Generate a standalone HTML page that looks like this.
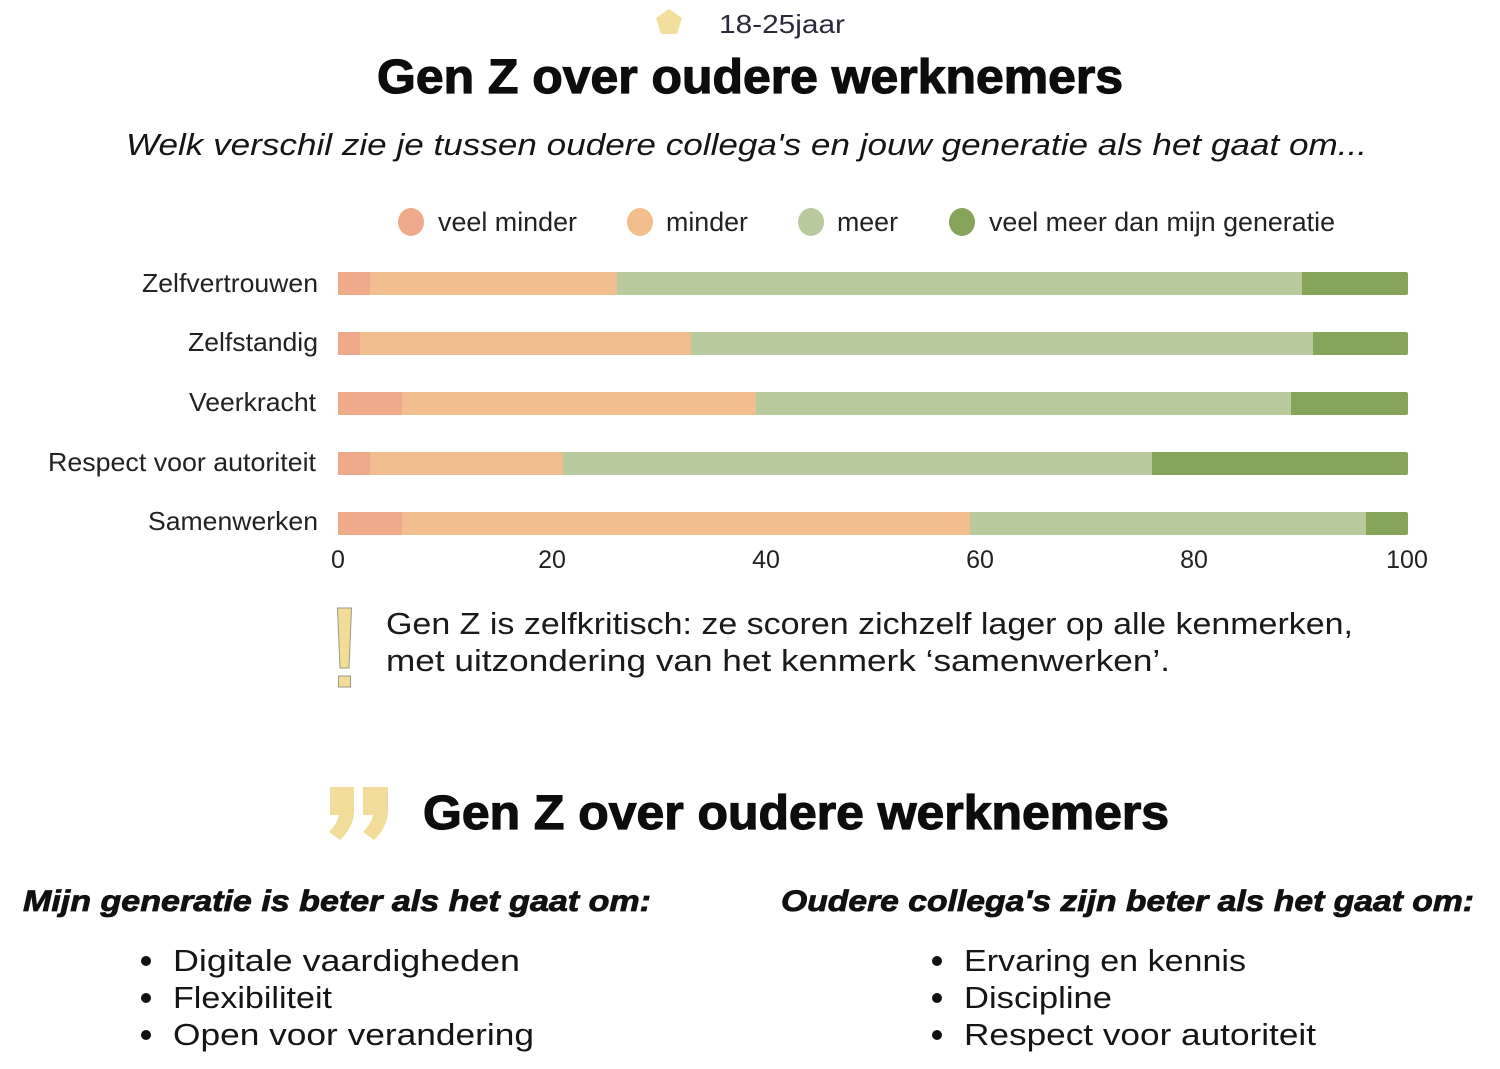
<!DOCTYPE html>
<html><head><meta charset="utf-8"><style>
html,body{margin:0;padding:0;background:#fff;}
svg{display:block;}
text{font-family:"Liberation Sans",sans-serif;}
</style></head><body>
<svg width="1500" height="1069" viewBox="0 0 1500 1069" xmlns="http://www.w3.org/2000/svg">
<rect width="1500" height="1069" fill="#fff"/>
<!-- header -->
<polygon points="669,9 682,18 677,34 661,34 656,18" fill="#F2DF9E"/>
<text x="719" y="33" font-size="26" fill="#2a2a3a" textLength="126" lengthAdjust="spacingAndGlyphs">18-25jaar</text>
<text x="377" y="93" font-size="48" font-weight="bold" fill="#0d0d0d" stroke="#0d0d0d" stroke-width="1.2" textLength="746" lengthAdjust="spacingAndGlyphs">Gen Z over oudere werknemers</text>
<text x="126" y="155" font-size="31" font-style="italic" fill="#151515" textLength="1241" lengthAdjust="spacingAndGlyphs">Welk verschil zie je tussen oudere collega's en jouw generatie als het gaat om...</text>

<!-- legend -->
<g font-size="26.5" fill="#222">
<ellipse cx="411" cy="222" rx="13" ry="14" fill="#EFA98B"/>
<text x="438" y="231" textLength="139" lengthAdjust="spacingAndGlyphs">veel minder</text>
<ellipse cx="640" cy="222" rx="13" ry="14" fill="#F3BE8D"/>
<text x="666" y="231" textLength="82" lengthAdjust="spacingAndGlyphs">minder</text>
<ellipse cx="811" cy="222" rx="13" ry="14" fill="#B8CA9E"/>
<text x="837" y="231" textLength="61" lengthAdjust="spacingAndGlyphs">meer</text>
<ellipse cx="962" cy="222" rx="13" ry="14" fill="#86A55B"/>
<text x="989" y="231" textLength="346" lengthAdjust="spacingAndGlyphs">veel meer dan mijn generatie</text>
</g>

<!-- y labels -->
<g font-size="26" fill="#222">
<text x="142" y="292" textLength="176" lengthAdjust="spacingAndGlyphs">Zelfvertrouwen</text>
<text x="188" y="351" textLength="130" lengthAdjust="spacingAndGlyphs">Zelfstandig</text>
<text x="189" y="411" textLength="127" lengthAdjust="spacingAndGlyphs">Veerkracht</text>
<text x="48" y="471" textLength="268" lengthAdjust="spacingAndGlyphs">Respect voor autoriteit</text>
<text x="148" y="530" textLength="170" lengthAdjust="spacingAndGlyphs">Samenwerken</text>
</g>

<!-- bars -->
<g>
<rect x="1300" y="272" width="108" height="23" rx="2" fill="#86A55B"/>
<rect x="338" y="272" width="32" height="23" fill="#EFA98B"/>
<rect x="370" y="272" width="247" height="23" fill="#F3BE8D"/>
<rect x="617" y="272" width="685" height="23" fill="#B8CA9E"/>
<rect x="1310" y="332" width="98" height="23" rx="2" fill="#86A55B"/>
<rect x="338" y="332" width="22" height="23" fill="#EFA98B"/>
<rect x="360" y="332" width="331" height="23" fill="#F3BE8D"/>
<rect x="691" y="332" width="622" height="23" fill="#B8CA9E"/>
<rect x="1288" y="392" width="120" height="23" rx="2" fill="#86A55B"/>
<rect x="338" y="392" width="64" height="23" fill="#EFA98B"/>
<rect x="402" y="392" width="354" height="23" fill="#F3BE8D"/>
<rect x="756" y="392" width="535" height="23" fill="#B8CA9E"/>
<rect x="1150" y="452" width="258" height="23" rx="2" fill="#86A55B"/>
<rect x="338" y="452" width="32" height="23" fill="#EFA98B"/>
<rect x="370" y="452" width="193" height="23" fill="#F3BE8D"/>
<rect x="563" y="452" width="589" height="23" fill="#B8CA9E"/>
<rect x="1364" y="512" width="44" height="23" rx="2" fill="#86A55B"/>
<rect x="338" y="512" width="64" height="23" fill="#EFA98B"/>
<rect x="402" y="512" width="568" height="23" fill="#F3BE8D"/>
<rect x="970" y="512" width="396" height="23" fill="#B8CA9E"/>
</g>

<!-- x ticks -->
<g font-size="25" fill="#222" text-anchor="middle">
<text x="338" y="568">0</text>
<text x="552" y="568">20</text>
<text x="766" y="568">40</text>
<text x="980" y="568">60</text>
<text x="1194" y="568">80</text>
<text x="1407" y="568">100</text>
</g>

<!-- exclamation -->
<polygon points="337.5,608 351.5,608 349,668 340,668" fill="#F2DC96" stroke="#9a9a8a" stroke-width="1"/>
<rect x="338.5" y="676" width="12" height="11" fill="#F2DC96" stroke="#9a9a8a" stroke-width="1"/>
<g font-size="31" fill="#1a1a1a">
<text x="386" y="634" textLength="967" lengthAdjust="spacingAndGlyphs">Gen Z is zelfkritisch: ze scoren zichzelf lager op alle kenmerken,</text>
<text x="386" y="671" textLength="784" lengthAdjust="spacingAndGlyphs">met uitzondering van het kenmerk ‘samenwerken’.</text>
</g>

<!-- quote icon -->
<path d="M330,787 L354,787 L354,812 Q353,828 340,840 L329,832 Q337,824 339,815 L330,815 Z" fill="#F2DC9A"/>
<path d="M363,787 L388,787 L388,812 Q387,828 374,840 L363,832 Q371,824 373,815 L363,815 Z" fill="#F2DC9A"/>
<text x="423" y="829" font-size="48" font-weight="bold" fill="#0d0d0d" stroke="#0d0d0d" stroke-width="1.2" textLength="746" lengthAdjust="spacingAndGlyphs">Gen Z over oudere werknemers</text>

<!-- bottom columns -->
<g font-size="30" font-weight="bold" font-style="italic" fill="#111" stroke="#111" stroke-width="0.8">
<text x="23" y="911" textLength="628" lengthAdjust="spacingAndGlyphs">Mijn generatie is beter als het gaat om:</text>
<text x="781" y="911" textLength="693" lengthAdjust="spacingAndGlyphs">Oudere collega's zijn beter als het gaat om:</text>
</g>
<g fill="#111">
<circle cx="146" cy="961" r="5"/>
<circle cx="146" cy="998" r="5"/>
<circle cx="146" cy="1035" r="5"/>
<circle cx="937" cy="961" r="5"/>
<circle cx="937" cy="998" r="5"/>
<circle cx="937" cy="1035" r="5"/>
</g>
<g font-size="31" fill="#151515">
<text x="173" y="971" textLength="347" lengthAdjust="spacingAndGlyphs">Digitale vaardigheden</text>
<text x="173" y="1008" textLength="159" lengthAdjust="spacingAndGlyphs">Flexibiliteit</text>
<text x="173" y="1045" textLength="361" lengthAdjust="spacingAndGlyphs">Open voor verandering</text>
<text x="964" y="971" textLength="282" lengthAdjust="spacingAndGlyphs">Ervaring en kennis</text>
<text x="964" y="1008" textLength="148" lengthAdjust="spacingAndGlyphs">Discipline</text>
<text x="964" y="1045" textLength="352" lengthAdjust="spacingAndGlyphs">Respect voor autoriteit</text>
</g>
</svg>
</body></html>
